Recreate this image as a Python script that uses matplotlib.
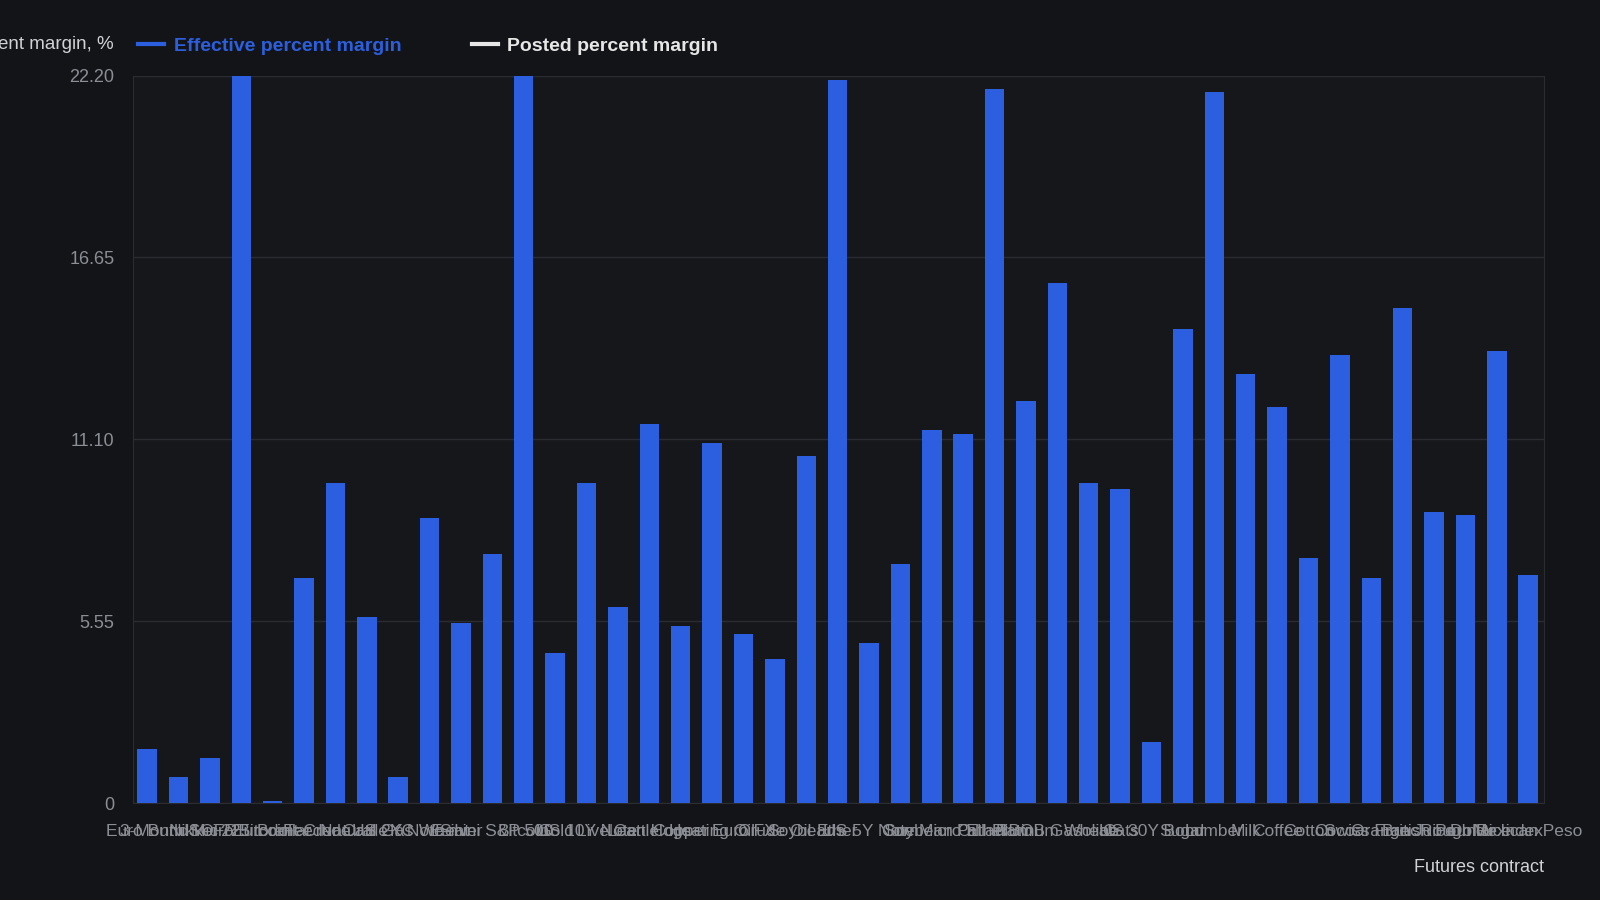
import numpy as np
import matplotlib.pyplot as plt
from matplotlib.lines import Line2D

plt.rcParams['font.family'] = ['Liberation Sans', 'DejaVu Sans']

# futures contracts (labels overlap in the source, names are best guesses)
contracts = ["Euro Bund", "3-Month SOFR", "Nikkei 225", "Micro Bitcoin", "Eurodollar",
             "Brent Crude", "Feeder Cattle", "Natural Gas", "US 2Y Note", "KC Wheat",
             "Silver", "E-mini S&P 500", "Bitcoin", "Gold", "US 10Y Note",
             "Live Cattle", "Lean Hogs", "Copper", "Heating Oil", "Euro FX",
             "Crude Oil", "Soybeans", "Ether", "US 5Y Note", "Corn",
             "Soybean Oil", "Micro Ether", "Palladium", "Platinum", "RBOB Gasoline",
             "Wheat", "Oats", "US 30Y Bond", "Sugar", "Lumber",
             "Milk", "Coffee", "Cotton", "Cocoa", "Swiss Franc",
             "Orange Juice", "British Pound", "Rough Rice", "Dollar Index", "Mexican Peso"]

effective = [1.65, 0.78, 1.37, 22.2, 0.06, 6.88, 9.78, 5.67, 0.78, 8.69,
             5.48, 7.60, 22.2, 4.58, 9.78, 5.98, 11.58, 5.39, 10.99, 5.17,
             4.39, 10.59, 22.07, 4.89, 7.29, 11.39, 11.27, 21.79, 12.27, 15.88,
             9.78, 9.59, 1.87, 14.48, 21.70, 13.08, 12.08, 7.47, 13.67, 6.88,
             15.10, 8.87, 8.78, 13.79, 6.97]

yticks = [0, 5.55, 11.10, 16.65, 22.20]
ytick_labels = ["0", "5.55", "11.10", "16.65", "22.20"]

bg = "#131418"
blue = "#2b5fdf"
W, H = 1568, 882  # layout measured on this scale

fig = plt.figure(figsize=(16, 9), dpi=100, facecolor=bg)
ax = fig.add_axes([130 / W, 1 - 787 / H, (1513 - 130) / W, (787 - 74) / H])
ax.set_facecolor("#16171b")

x = np.arange(len(contracts))
ax.bar(x, effective, width=0.62, color=blue, zorder=3)

ax.set_xlim(-0.46, len(contracts) - 0.5)
ax.set_ylim(0, 22.2)
ax.set_yticks(yticks)
ax.set_yticklabels(ytick_labels)
ax.set_xticks(x)
ax.set_xticklabels(contracts)
ax.tick_params(axis='y', colors="#8b8e94", labelsize=13, length=0, pad=13)
ax.tick_params(axis='x', colors="#8b8e94", labelsize=12.5, length=0, pad=15)
ax.grid(axis='y', color="#2a2c31", linewidth=1, zorder=0)
for side in ['left', 'right', 'bottom', 'top']:
    ax.spines[side].set_color("#2a2c31")
ax.spines['top'].set_visible(False)

# y-axis name sits at the top left, cut off by the figure edge
fig.text(111 / W, 1 - 44 / H, "Effective percent margin, %", ha='right', va='center',
         color="#d0d2d6", fontsize=13.5)
fig.text(1513 / W, 1 - 850 / H, "Futures contract", ha='right', va='center',
         color="#d0d2d6", fontsize=13)

handles = [Line2D([], [], color=blue, linewidth=3),
           Line2D([], [], color="#e6e6e6", linewidth=3)]
leg = ax.legend(handles, ["Effective percent margin", "Posted percent margin"],
                ncol=2, loc='center left', bbox_to_anchor=(118 / W, 1 - 45 / H),
                bbox_transform=fig.transFigure, frameon=False, handlelength=1.35,
                handletextpad=0.5, columnspacing=3.6, prop={'size': 14, 'weight': 'bold'})
leg.get_texts()[0].set_color(blue)
leg.get_texts()[1].set_color("#e6e6e6")

fig.savefig("out.png", dpi=100, facecolor=bg)
